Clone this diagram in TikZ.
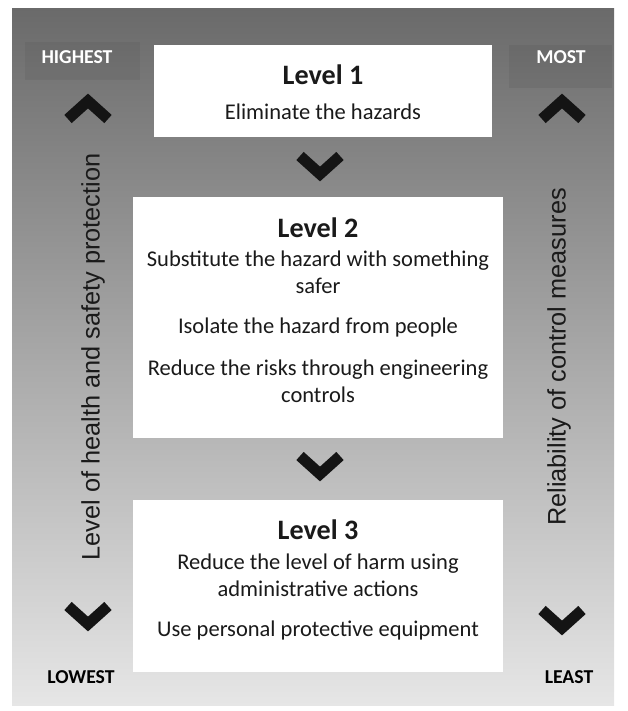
\documentclass[tikz,border=0pt]{standalone}
\usepackage{fontspec}
\setmainfont{Carlito}
\newfontfamily\sidefont{Liberation Sans}
\usetikzlibrary{positioning}
\definecolor{paneltop}{HTML}{6A6A6A}
\definecolor{panelbot}{HTML}{E6E6E6}
\definecolor{ink}{HTML}{1A1A1A}
\tikzset{
  levelbox/.style={fill=white, draw=none},
  headtext/.style={font=\fontsize{20}{24}\selectfont\bfseries, text=ink},
  bodytext/.style={font=\fontsize{16}{19}\selectfont, text=ink, align=center},
  sidelabel/.style={font=\sidefont\fontsize{18}{20}\selectfont, text=ink, rotate=90},
  endlabel/.style={font=\fontsize{14}{16}\selectfont\bfseries},
  chev/.style={line width=7.8pt, line join=miter, draw=black!92}
}

\begin{document}
\begin{tikzpicture}[x=0.025cm, y=-0.025cm]
  \useasboundingbox (0,0) rectangle (627,711);
  % panel
  \shade[top color=paneltop, bottom color=panelbot] (12,8) rectangle (614,705);
  \fill[black, opacity=0.05] (25,42) rectangle (140,80);
  \fill[black, opacity=0.06] (509,45) rectangle (612,88);

  % the three level boxes
  \path[levelbox] (154,45) rectangle (492,137);
  \path[levelbox] (133,197) rectangle (503,438);
  \path[levelbox] (133,500) rectangle (503,672);

  \node[headtext] (lvonehead) at (323,75) {Level 1};
  \node[bodytext] (lvonea) at (323,112) {Eliminate the hazards};

  \node[headtext] (lvtwohead) at (318,228) {Level 2};
  \node[bodytext] (lvtwoa) at (318,272) {Substitute the hazard with something\\safer};
  \node[bodytext] (lvtwob) at (318,327) {Isolate the hazard from people};
  \node[bodytext] (lvtwoc) at (318,381) {Reduce the risks through engineering\\controls};

  \node[headtext] (lvthreehead) at (318,530) {Level 3};
  \node[bodytext] (lvthreea) at (318,575) {Reduce the level of harm using\\administrative actions};
  \node[bodytext] (lvthreeb) at (318,630) {Use personal protective equipment};

  % chevrons
  \draw[chev] (300,156) -- (320,174) -- (340,156);
  \draw[chev] (300,456) -- (320,474) -- (340,456);
  \draw[chev] (68,119) -- (88,101) -- (108,119);
  \draw[chev] (542,119) -- (562,101) -- (582,119);
  \draw[chev] (68,606) -- (88,624) -- (108,606);
  \draw[chev] (542,610) -- (562,628) -- (582,610);

  % side labels
  \node[endlabel, text=white] (highest) at (77,57) {HIGHEST};
  \node[endlabel, text=white] (most) at (561,57) {MOST};
  \node[endlabel, text=black] (lowest) at (81,677) {LOWEST};
  \node[endlabel, text=black] (least) at (569,677) {LEAST};
  \node[sidelabel] (healthaxis) at (93,357) {Level of health and safety protection};
  \node[sidelabel] (reliaxis) at (559,357) {Reliability of control measures};
\end{tikzpicture}
\end{document}
